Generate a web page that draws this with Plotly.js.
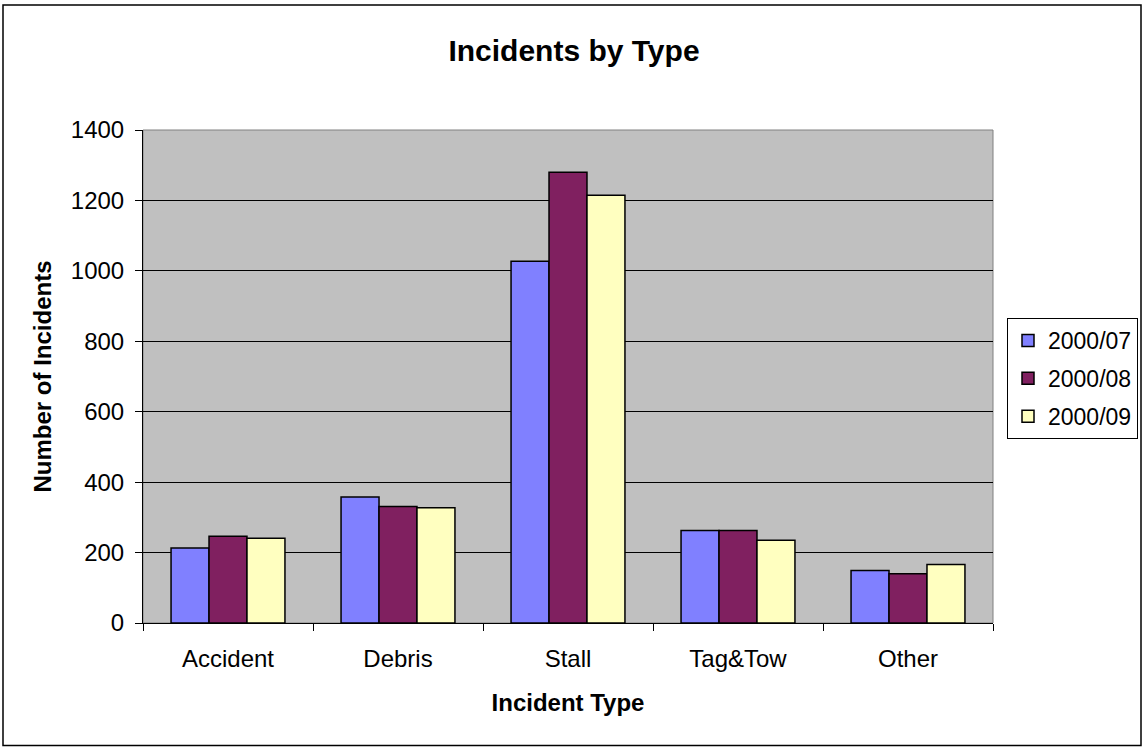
<!DOCTYPE html>
<html>
<head>
<meta charset="utf-8">
<script src="https://cdn.plot.ly/plotly-3.0.1.min.js"></script>
<style>html,body{margin:0;padding:0;background:#fff;}#chart{width:1143px;height:747px;}</style>
</head>
<body>
<div id="chart"></div>
<script>
var categories = ["Accident", "Debris", "Stall", "Tag&Tow", "Other"];
var seriesNames = ["2000/07", "2000/08", "2000/09"];
var s200007 = [213, 358, 1027, 263, 149];
var s200008 = [246, 331, 1280, 263, 140];
var s200009 = [241, 327, 1215, 235, 166];
var yTicks = [0, 200, 400, 600, 800, 1000, 1200, 1400];
var colors = ["#8080FF", "#802060", "#FFFFC0"];

var allSeries = [s200007, s200008, s200009];
var data = allSeries.map(function (vals, i) {
  return {
    type: "bar",
    x: categories,
    y: vals,
    name: seriesNames[i],
    legendgroup: "g" + i,
    marker: {color: colors[i], line: {color: "#000", width: 1.5}},
    hoverinfo: "x+y+name"
  };
});

var font = "Liberation Sans, Arial, sans-serif";
var layout = {
  width: 1143, height: 747,
  margin: {l: 143, r: 150, t: 130, b: 124, pad: 0, autoexpand: false},
  paper_bgcolor: "#fff",
  plot_bgcolor: "#C0C0C0",
  font: {family: font, size: 24, color: "#000"},
  barmode: "group",
  bargap: 0.33,
  bargroupgap: 0,
  title: {text: "<b>Incidents by Type</b>", font: {family: font, size: 30, color: "#000"},
          x: 574 / 1143, xref: "container", xanchor: "center",
          y: 1 - 50 / 747, yref: "container", yanchor: "middle"},
  xaxis: {
    title: {text: "<b>Incident Type</b>", font: {family: font, size: 24}, standoff: 23},
    tickfont: {family: font, size: 24},
    showline: true, linecolor: "#000", linewidth: 1,
    ticks: "outside", ticklen: 7, tickcolor: "#000", tickson: "boundaries",
    ticklabelstandoff: 14,
    showgrid: false, zeroline: false, fixedrange: true
  },
  yaxis: {
    title: {text: "<b>Number of Incidents</b>", font: {family: font, size: 24}, standoff: 12},
    tickfont: {family: font, size: 24},
    range: [0, 1400], tickvals: yTicks, ticktext: yTicks.map(String),
    showline: true, linecolor: "#000", linewidth: 1,
    ticks: "outside", ticklen: 7, tickcolor: "#000", ticklabelstandoff: 6,
    showgrid: true, gridcolor: "#000", gridwidth: 1, zeroline: false, fixedrange: true
  },
  legend: {
    x: (1007 - 143) / 850, y: (623 - 318) / 493, xanchor: "left", yanchor: "top",
    bgcolor: "#fff", bordercolor: "#000", borderwidth: 1,
    font: {family: font, size: 23}, itemwidth: 30,
    traceorder: "grouped", tracegroupgap: 5
  },
  shapes: [{
    type: "rect", xref: "paper", yref: "paper",
    x0: (3 - 143) / 850, x1: (1141 - 143) / 850,
    y0: (623 - 745.5) / 493, y1: (623 - 5) / 493,
    line: {color: "#000", width: 1.5}, fillcolor: "rgba(0,0,0,0)", layer: "below"
  }, {
    type: "rect", xref: "paper", yref: "paper", x0: 0, x1: 1, y0: 0, y1: 1,
    line: {color: "#808080", width: 1}, fillcolor: "rgba(0,0,0,0)", layer: "below"
  }],
  showlegend: true
};

Plotly.newPlot("chart", data, layout, {displayModeBar: false});
</script>
</body>
</html>
